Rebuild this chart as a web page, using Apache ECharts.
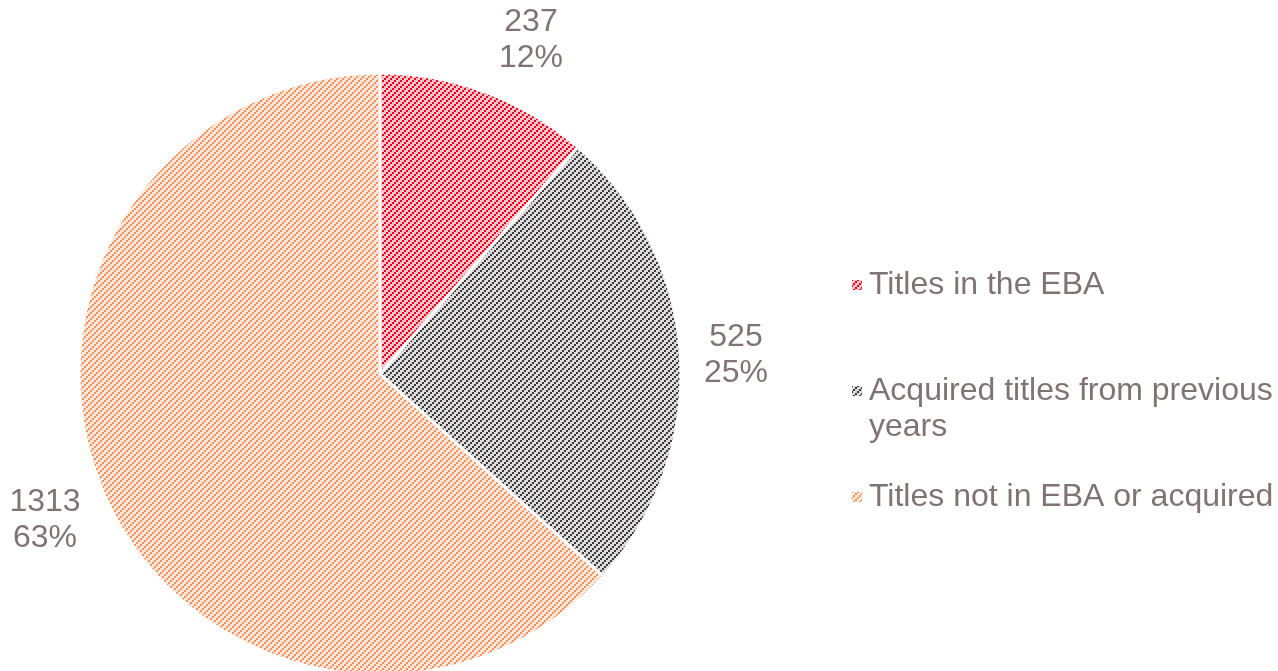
<!DOCTYPE html>
<html>
<head>
<meta charset="utf-8">
<script src="https://cdn.jsdelivr.net/npm/echarts@6/dist/echarts.min.js"></script>
<style>
html,body{margin:0;padding:0;background:#fff;}
#main{width:1278px;height:671px;}
</style>
</head>
<body>
<div id="main"></div>
<script>
const names = ['Titles in the EBA', 'Acquired titles from previous years', 'Titles not in EBA or acquired'];
const values = [237, 525, 1313];

// label centres (px), same order as names
const labelPos = [[531, 40], [736, 355], [45, 520]];

// striped fill, "/" direction, 2px steps, 6px period
function stripes(fg, bg){
    const c = document.createElement('canvas');
    c.width = 6; c.height = 6;
    const ctx = c.getContext('2d');
    ctx.fillStyle = bg;
    ctx.fillRect(0, 0, 6, 6);
    ctx.fillStyle = fg;
    for (let x = 0; x < 6; x++) {
        for (let y = 0; y < 6; y++) {
            if ((Math.floor(x / 2) + Math.floor(y / 2)) % 3 === 0) ctx.fillRect(x, y, 1, 1);
        }
    }
    return {image: c, repeat: 'repeat'};
}
const fills = [
    stripes('#e6001e', '#ffc4c9'),
    stripes('#3c3838', '#dcdada'),
    stripes('#f4925e', '#fde6da')
];

const txt = '#7f7471';
const font = "'Liberation Sans', Arial, sans-serif";

const myChart = echarts.init(document.querySelector('#main'));
const option = {
    animation: false,
    legend: {
        orient: 'vertical',
        left: 845,
        top: 262,
        itemWidth: 12,
        itemHeight: 12,
        itemGap: 34,
        icon: 'rect',
        selectedMode: false,
        // empty first line keeps the icon level with "Acquired ..."
        formatter: name => name.indexOf(' previous ') > -1 ? '\n' + name.replace(' previous ', ' previous\n') : name,
        textStyle: {
            fontSize: 32,
            lineHeight: 36,
            color: txt,
            fontFamily: font,
            padding: [0, 0, 0, 1]
        },
        data: names
    },
    series: [
        {
            type: 'pie',
            center: [380, 374],
            radius: 301,
            startAngle: 90,
            clockwise: true,
            percentPrecision: 0,
            emphasis: {disabled: true},
            itemStyle: {
                borderColor: '#fff',
                borderWidth: 3
            },
            label: {
                show: true,
                position: 'outside',
                alignTo: 'none',
                overflow: 'none',
                formatter: '{c}\n{d}%',
                fontSize: 32,
                lineHeight: 36,
                color: txt,
                fontFamily: font,
                align: 'center'
            },
            labelLine: {show: false},
            labelLayout: function(params){
                const p = labelPos[params.dataIndex];
                return {x: p[0], y: p[1], align: 'center', verticalAlign: 'middle', width: 120};
            },
            data: names.map((n, i) => {
                return {
                    name: n,
                    value: values[i],
                    itemStyle: {color: fills[i]}
                };
            })
        }
    ]
};
myChart.setOption(option);
</script>
</body>
</html>
